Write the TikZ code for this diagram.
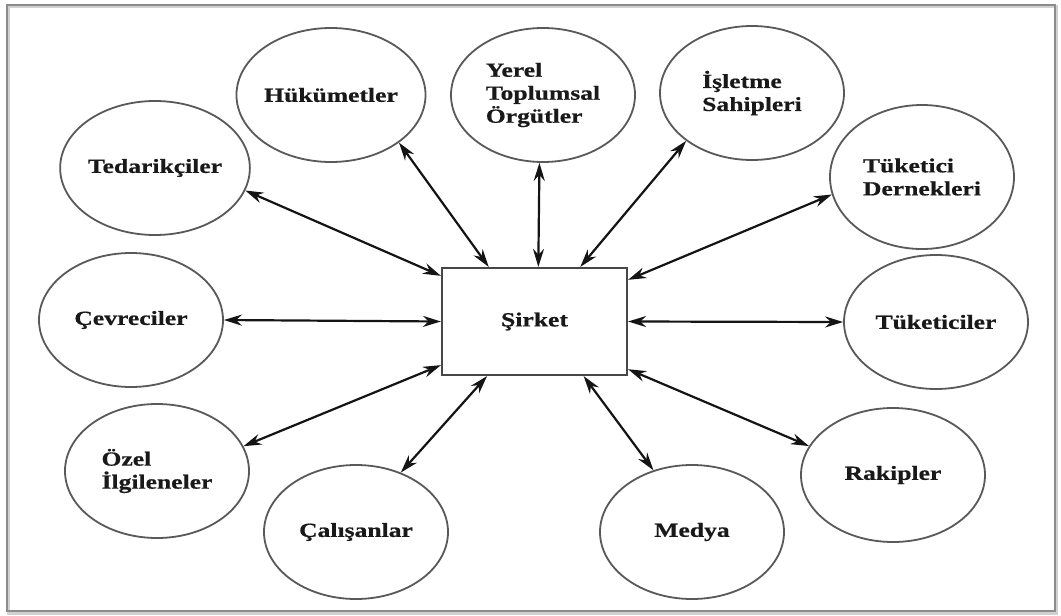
\documentclass[tikz,border=0pt]{standalone}
\usepackage{fontspec}
\setmainfont{Liberation Serif}[FakeStretch=1.28, BoldFeatures={FakeBold=0.6}]
\usetikzlibrary{arrows.meta,shapes.geometric}
\begin{document}
\begin{tikzpicture}[x=1pt,y=-1pt,
  party/.style={ellipse, draw=black!65, line width=1.8pt,
    minimum width=184pt, minimum height=134pt, inner sep=0pt,
    align=left, font=\fontsize{20}{23}\selectfont\bfseries, text=black!90},
  firm/.style={rectangle, draw=black!72, line width=2.2pt,
    minimum width=185pt, minimum height=107pt, inner sep=0pt,
    font=\fontsize{20}{23}\selectfont\bfseries, text=black!90},
  tip/.tip={Stealth[length=18pt,width=11pt]},
  link/.style={tip-tip, line width=2.2pt, black!92}]

% page and frame
\useasboundingbox (0,0) rectangle (1061,616);
\fill[white] (0,0) rectangle (1061,616);
\draw[black!18, line width=3pt] (8,6) rectangle (1056,613);
\draw[black!45, line width=1.6pt] (7,5) rectangle (1055,611);

% the company in the middle
\node[firm] (sirket) at (534.5,321.5) {Şirket};

% stakeholder groups around it
\node[party] (ted)   at (155,168) {Tedarikçiler};
\node[party] (huk)   at (331,95)  {Hükümetler};
\node[party] (yerel) at (543,95)  {Yerel\\Toplumsal\\Örgütler};
\node[party] (islet) at (752,93)  {İşletme\\Sahipleri};
\node[party, minimum height=144pt] (tder) at (922,177) {Tüketici\\Dernekleri};
\node[party] (tuk)   at (936,322) {Tüketiciler};
\node[party] (rak)   at (893,475) {Rakipler};
\node[party] (med)   at (692,532) {Medya};
\node[party] (cal)   at (356,532) {Çalışanlar};
\node[party] (ozel)  at (157,471) {Özel\\İlgileneler};
\node[party] (cev)   at (131,320) {Çevreciler};

% two-way relations
\draw[link] (sirket.154)  -- (ted.-14);
\draw[link] (sirket.130)  -- (huk.-35);
\draw[link] (sirket.86)   -- (yerel.-93);
\draw[link] (sirket.50)   -- (islet.-144);
\draw[link] (sirket.24)   -- (tder.-169);
\draw[link] (sirket.0)    -- (tuk.180);
\draw[link] (sirket.-27)  -- (rak.161);
\draw[link] (sirket.-48)  -- (med.122);
\draw[link] (sirket.-131) -- (cal.53);
\draw[link] (sirket.205)  -- (ozel.16);
\draw[link] (sirket.180)  -- (cev.0);
\end{tikzpicture}
\end{document}
